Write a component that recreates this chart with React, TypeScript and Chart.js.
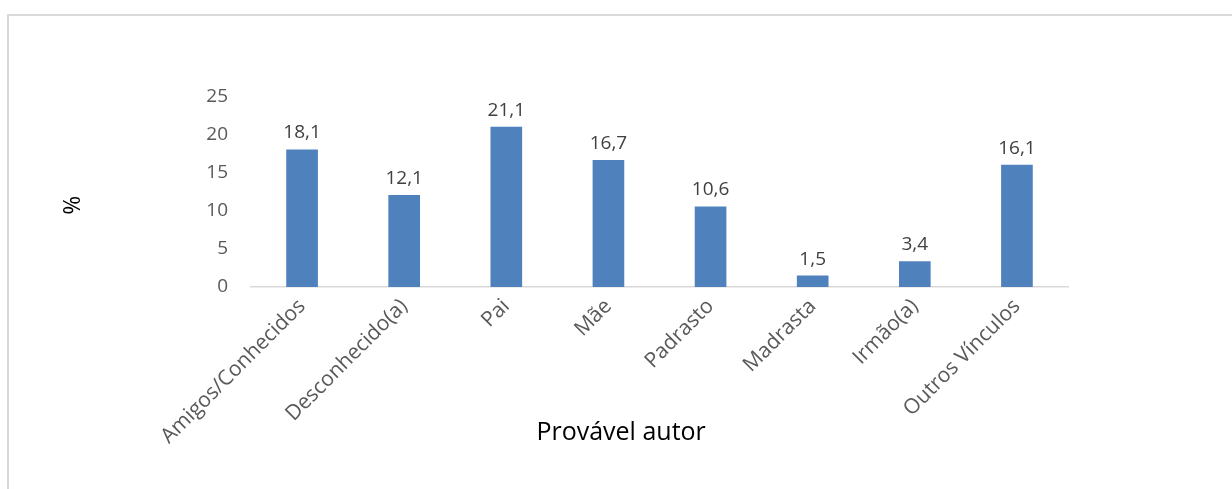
import React, { useEffect, useRef } from "react";
import { Chart, registerables } from "chart.js";

Chart.register(...registerables);

const categories = [
  "Amigos/Conhecidos",
  "Desconhecido(a)",
  "Pai",
  "Mãe",
  "Padrasto",
  "Madrasta",
  "Irmão(a)",
  "Outros Vínculos",
];
const values = [18.1, 12.1, 21.1, 16.7, 10.6, 1.5, 3.4, 16.1];
const yTitle = "%";
const xTitle = "Provável autor";

const FONT = "'Open Sans', 'DejaVu Sans', sans-serif";
const BAR_COLOR = "#4f81bd";

const fmt = (v: number) => v.toFixed(1).replace(".", ",");

const dataLabels = {
  id: "dataLabels",
  afterDatasetsDraw(chart: any) {
    const ctx = chart.ctx;
    const meta = chart.getDatasetMeta(0);
    ctx.save();
    ctx.font = `19px ${FONT}`;
    ctx.fillStyle = "#404040";
    ctx.textAlign = "center";
    ctx.textBaseline = "alphabetic";
    meta.data.forEach((el: any, i: number) => {
      ctx.fillText(fmt(values[i]), el.x, el.y - 11);
    });
    ctx.restore();
  },
};

const axisTitles = {
  id: "axisTitles",
  afterDraw(chart: any) {
    const { ctx, chartArea } = chart;
    ctx.save();
    ctx.fillStyle = "#000000";
    ctx.textAlign = "center";
    ctx.textBaseline = "middle";
    ctx.font = `25px ${FONT}`;
    ctx.fillText(xTitle, chartArea.left + chartArea.width * 0.453, chartArea.bottom + 146);
    ctx.translate(chartArea.left - 178, chartArea.top + chartArea.height * 0.57);
    ctx.rotate(-Math.PI / 2);
    ctx.font = `23px ${FONT}`;
    ctx.fillText(yTitle, 0, 0);
    ctx.restore();
  },
};

export default function App() {
  const ref = useRef<HTMLCanvasElement>(null);

  useEffect(() => {
    if (!ref.current) return;
    const chart = new Chart(ref.current, {
      type: "bar",
      data: {
        labels: categories,
        datasets: [
          {
            data: values,
            backgroundColor: BAR_COLOR,
            barPercentage: 0.31,
            categoryPercentage: 1,
          },
        ],
      },
      options: {
        animation: false,
        responsive: false,
        events: [],
        layout: { padding: { left: 0, top: 97, right: 164, bottom: 37 } },
        plugins: {
          legend: { display: false },
          tooltip: { enabled: false },
          title: { display: false },
        },
        scales: {
          x: {
            grid: { display: false, drawTicks: false },
            border: { display: true, color: "#d9d9d9", width: 1.5 },
            ticks: {
              color: "#595959",
              font: { family: FONT, size: 21 },
              maxRotation: 45,
              minRotation: 45,
              padding: 7,
              autoSkip: false,
            },
            afterFit(scale: any) {
              scale.height = 165;
            },
          },
          y: {
            min: 0,
            max: 25,
            grid: { display: false, drawTicks: false },
            border: { display: false },
            ticks: {
              stepSize: 5,
              color: "#595959",
              font: { family: FONT, size: 19 },
              padding: 23,
            },
            afterFit(scale: any) {
              scale.width = 251;
            },
          },
        },
      },
      plugins: [dataLabels, axisTitles],
    });
    return () => chart.destroy();
  }, []);

  return (
    <div style={{ position: "fixed", left: 0, top: 0, width: 1232, height: 489, background: "#ffffff", overflow: "hidden" }}>
      <div
        style={{
          position: "absolute",
          left: 7,
          top: 14,
          width: 1260,
          height: 520,
          border: "2px solid #d9d9d9",
          boxSizing: "border-box",
        }}
      />
      <canvas ref={ref} width={1232} height={489} style={{ position: "absolute", left: 0, top: 0 }} />
    </div>
  );
}
